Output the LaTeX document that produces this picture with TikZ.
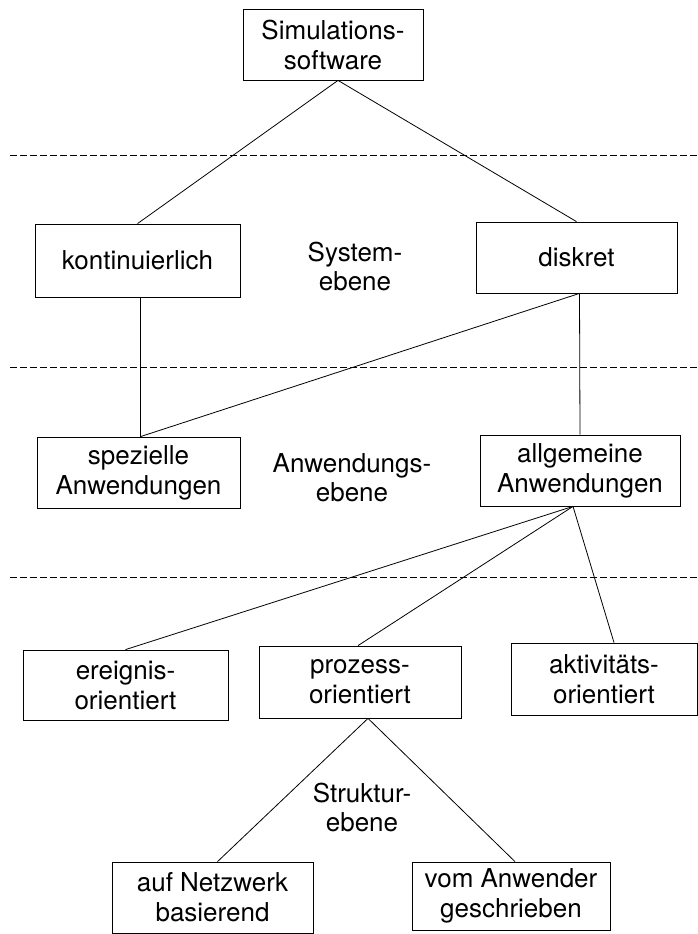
\documentclass[tikz,border=0pt]{standalone}
\usepackage{fontspec}
\setmainfont{TeX Gyre Heros}
\begin{document}
\begin{tikzpicture}[x=1pt,y=-1pt,
  box/.style={draw,line width=0.8pt,rectangle,inner sep=0pt,align=center,
    font=\fontsize{26}{30}\selectfont},
  lbl/.style={inner sep=0pt,align=center,font=\fontsize{26}{29}\selectfont},
  link/.style={line width=0.8pt},
  level/.style={line width=0.8pt,dash pattern=on 7pt off 3pt}]
\useasboundingbox (0,0) rectangle (698,934);

% level separators
\coordinate (s1a) at (10,155);  \coordinate (s1b) at (698,155);
\coordinate (s2a) at (10,367);  \coordinate (s2b) at (698,367);
\coordinate (s3a) at (10,577);  \coordinate (s3b) at (698,577);
\draw[level] (s1a) -- (s1b);
\draw[level] (s2a) -- (s2b);
\draw[level] (s3a) -- (s3b);

% boxes
\node[box,minimum width=180pt,minimum height=71pt] (sim) at (333,44.5) {Simulations-\\software};
\node[box,minimum width=205pt,minimum height=73pt] (kont) at (137.5,260.5) {kontinuierlich};
\node[box,minimum width=201pt,minimum height=71pt] (disk) at (576.5,257.5) {diskret};
\node[box,minimum width=203pt,minimum height=71pt] (spez) at (138.5,472.5) {spezielle\\Anwendungen};
\node[box,minimum width=200pt,minimum height=71pt] (allg) at (580,470.5) {allgemeine\\Anwendungen};
\node[box,minimum width=205pt,minimum height=70pt] (ereig) at (125.5,685) {ereignis-\\orientiert};
\node[box,minimum width=202pt,minimum height=72pt] (proz) at (360,682) {prozess-\\orientiert};
\node[box,minimum width=186pt,minimum height=72pt] (akt) at (604,679) {aktivitäts-\\orientiert};
\node[box,minimum width=201pt,minimum height=71pt] (netz) at (212.5,897.5) {auf Netzwerk\\basierend};
\node[box,minimum width=198pt,minimum height=68pt] (anw) at (511,896) {vom Anwender\\geschrieben};

% level names
\node[lbl] (sysebene) at (355,266) {System-\\ebene};
\node[lbl] (anwebene) at (352,478) {Anwendungs-\\ebene};
\node[lbl] (strebene) at (362,807) {Struktur-\\ebene};

% connectors
\draw[link] ([xshift=5pt]sim.south) -- (kont.north);
\draw[link] ([xshift=5pt]sim.south) -- (disk.north);
\draw[link] ([xshift=3pt]kont.south) -- ([xshift=2pt]spez.north);
\draw[link] ([xshift=3pt]disk.south) -- ([xshift=2pt]spez.north);
\draw[link] ([xshift=3pt]disk.south) -- (allg.north);
\draw[link] ([xshift=-7pt]allg.south) -- (ereig.north);
\draw[link] ([xshift=-7pt]allg.south) -- ([xshift=-2pt]proz.north);
\draw[link] ([xshift=-7pt]allg.south) -- ([xshift=10pt]akt.north);
\draw[link] ([xshift=8pt]proz.south) -- ([xshift=5pt]netz.north);
\draw[link] ([xshift=8pt]proz.south) -- ([xshift=4pt]anw.north);
\end{tikzpicture}
\end{document}
